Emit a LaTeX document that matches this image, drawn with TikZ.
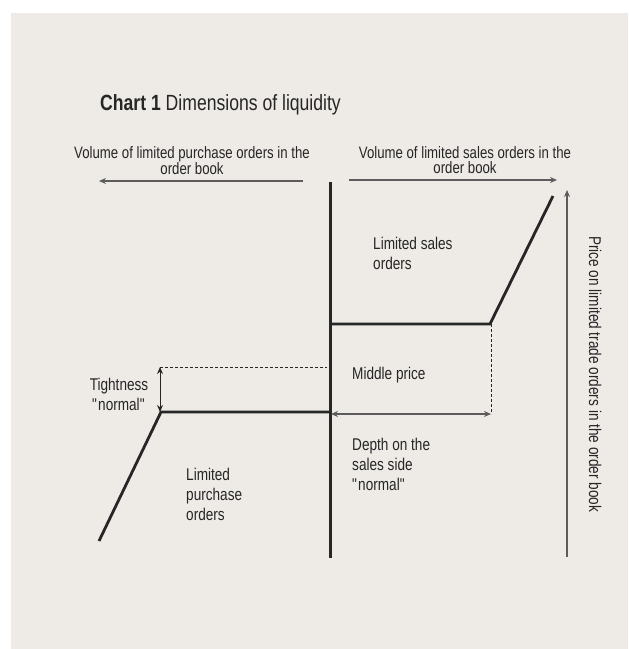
\documentclass[tikz,border=0pt]{standalone}
\usepackage{fontspec}
\setmainfont{Liberation Sans}[FakeStretch=0.8]
\usetikzlibrary{arrows.meta, positioning}
\definecolor{paper}{HTML}{EEEBE7}
\definecolor{ink}{HTML}{262626}
\definecolor{axisGray}{HTML}{5C5C5C}
\newcommand{\qt}[1]{\textquotedbl#1\textquotedbl}
\tikzset{
    >={Stealth[length=7pt,width=6pt]},
    % Lines
    curve/.style={line width=2.8pt, ink, line join=miter},
    axisArrow/.style={->, line width=1.3pt, axisGray},
    guide/.style={dashed, thin, ink, dash pattern=on 3pt off 2pt},
    span/.style={<->, line width=1.2pt, axisGray},
    % Labels
    lbl/.style={font=\fontsize{17}{20}\selectfont, text=ink, inner sep=0pt, align=left},
    headLbl/.style={font=\fontsize{16.5}{15.2}\selectfont, text=ink, inner sep=0pt, align=center}
}

\begin{document}
\begin{tikzpicture}[x=1pt, y=-1pt]
\useasboundingbox (0,0) rectangle (629,649);
\fill[paper] (11,13) rectangle (628,649);

% title and axis labels
\node[anchor=base west, inner sep=0pt, text=ink, font=\fontsize{22}{26}\selectfont] (title) at (100,110) {\textbf{Chart 1} Dimensions of liquidity};
\node[headLbl, anchor=north] (buyVol) at (192,146) {Volume of limited purchase orders in the\\order book};
\node[headLbl, anchor=north] (sellVol) at (465,146) {Volume of limited sales orders in the\\order book};
\node[lbl, rotate=-90, anchor=base west] (priceLbl) at (589,236) {Price on limited trade orders in the order book};

% axes
\coordinate (buyStart) at (303,181);
\coordinate (buyEnd) at (99,181);
\coordinate (sellStart) at (349,180);
\coordinate (sellEnd) at (557,180);
\coordinate (priceStart) at (567,557);
\coordinate (priceEnd) at (567,190);
\coordinate (midTop) at (330,182);
\coordinate (midBot) at (330,558);

\draw[axisArrow] (buyStart) -- (buyEnd);
\draw[axisArrow] (sellStart) -- (sellEnd);
\draw[axisArrow] (priceStart) -- (priceEnd);
\draw[line width=3pt, ink] (midTop) -- (midBot);

% order book curves
\coordinate (askMid) at (330,324);
\coordinate (askKnee) at (490,324);
\coordinate (askTop) at (553,196);
\coordinate (bidMid) at (330,412);
\coordinate (bidKnee) at (161,412);
\coordinate (bidLow) at (99,541);

\draw[curve] (askMid) -- (askKnee) -- (askTop);
\draw[curve] (bidMid) -- (bidKnee) -- (bidLow);

% tightness and depth
\coordinate (tightTop) at (160,367);
\coordinate (tightBot) at (160,412);
\coordinate (dashEnd) at (327,367);
\coordinate (depthL) at (331,414);
\coordinate (depthR) at (491,414);
\coordinate (kneeDrop) at (491,324);

\draw[guide] (tightTop) -- (dashEnd);
\draw[guide] (kneeDrop) -- (depthR);
\draw[span, line width=1pt, ink] (tightTop) -- (tightBot);
\draw[span] (depthL) -- (depthR);

\node[lbl, anchor=north west] (askLbl) at (373,236.8) {Limited sales\\orders};
\node[lbl, anchor=north west] (midLbl) at (352,366.8) {Middle price};
\node[lbl, anchor=north west] (depthLbl) at (352,438.2) {Depth on the\\sales side\\\qt{normal}};
\node[lbl, anchor=north west] (bidLbl) at (186,467.5) {Limited\\purchase\\orders};
\node[lbl, anchor=north, align=center] (tightLbl) at (119,377.5) {Tightness\\\qt{normal}};

\end{tikzpicture}
\end{document}
